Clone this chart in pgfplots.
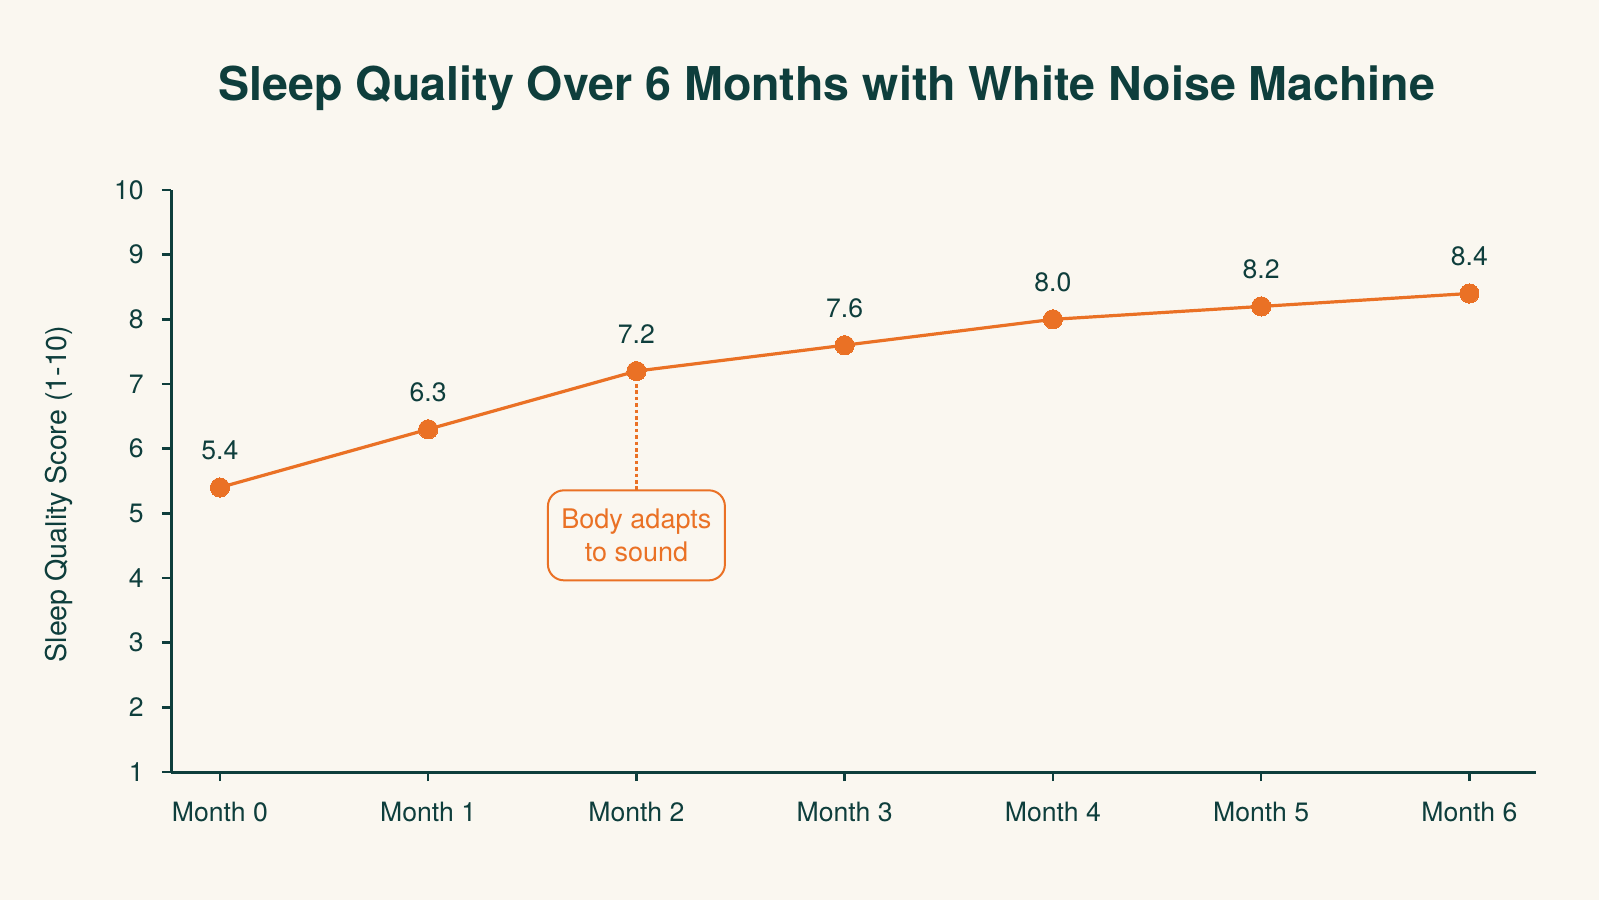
\documentclass[border=0pt]{standalone}
\usepackage{pgfplots}
\pgfplotsset{compat=1.18}
\usepackage{fontspec}
\setmainfont{TeX Gyre Heros}
\definecolor{bg}{HTML}{FAF7F0}
\definecolor{teal}{HTML}{0E3E3C}
\definecolor{accent}{HTML}{EA7125}
\begin{document}
\begin{tikzpicture}
\fill[bg] (0,0) rectangle (799.5pt,450pt);
\node[font=\fontsize{23.3}{28}\selectfont\bfseries, text=teal] at (413.5pt,406pt) {Sleep Quality Over 6 Months with White Noise Machine};
\node[rotate=90, font=\fontsize{14.3}{17}\selectfont, text=teal] at (29.5pt,203pt) {Sleep Quality Score (1-10)};
\begin{axis}[
  at={(85.5pt,64pt)}, anchor=south west,
  scale only axis, width=682.5pt, height=291pt,
  xmin=-0.235, xmax=6.32, ymin=1, ymax=10,
  axis x line=bottom, axis y line=left,
  axis line style={-, teal, line width=1.5pt},
  major tick style={teal, line width=1.2pt},
  major tick length=4.5pt, tick align=outside,
  xtick={0,1,2,3,4,5,6},
  xticklabels={Month 0,Month 1,Month 2,Month 3,Month 4,Month 5,Month 6},
  ytick={1,2,...,10},
  /pgf/number format/assume math mode=true,
  ticklabel style={font=\fontsize{13.3}{16}\selectfont, text=teal},
  x tick label style={inner sep=0pt, yshift=-10.5pt},
  y tick label style={inner sep=0pt, xshift=-9pt},
  clip=false,
  nodes near coords,
  point meta=explicit symbolic,
  every node near coord/.append style={font=\fontsize{13.3}{16}\selectfont, text=teal, anchor=base, inner sep=0pt, yshift=14pt},
]
\addplot[accent, line width=1.6pt, mark=*, mark size=4.8pt, mark options={fill=accent, draw=accent, line width=0pt}]
  table[meta=lab] {
x y lab
0 5.4 5.4
1 6.3 6.3
2 7.2 7.2
3 7.6 7.6
4 8.0 8.0
5 8.2 8.2
6 8.4 8.4
};
\draw[accent, line width=1.1pt, dash pattern=on 1.8pt off 1.4pt] (axis cs:2,7.0) -- (axis cs:2,5.36);
\node[draw=accent, line width=1pt, rounded corners=8pt, text=accent, align=center,
  minimum width=88.5pt, minimum height=45pt, inner sep=2pt,
  font=\fontsize{13.5}{16.5}\selectfont, fill=bg] at (axis cs:2,4.66) {Body adapts\\to sound};
\end{axis}
\end{tikzpicture}
\end{document}
